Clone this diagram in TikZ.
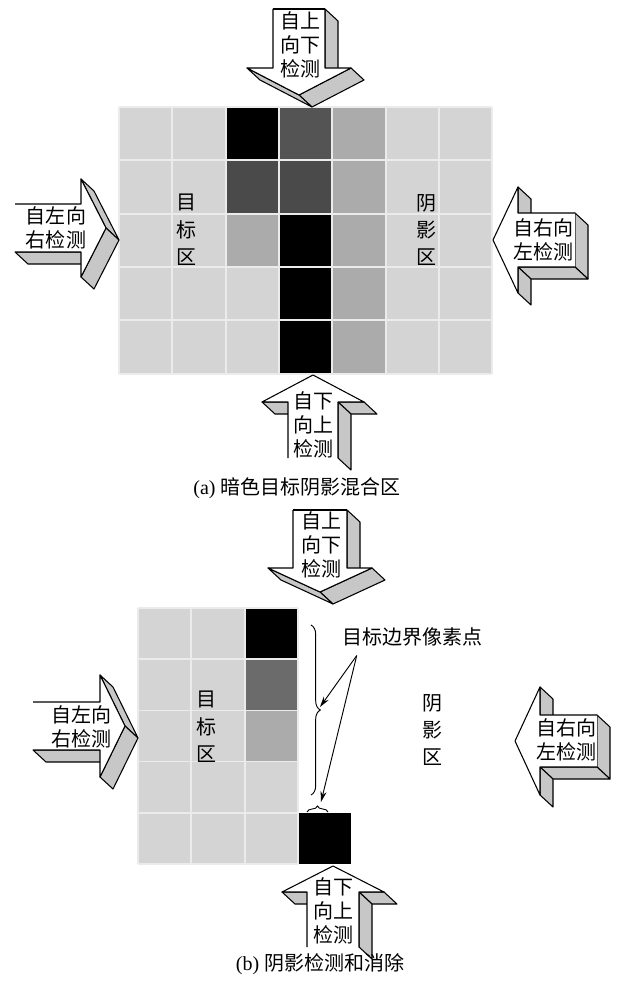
\documentclass[tikz,border=0pt]{standalone}
\usepackage{fontspec}
\setmainfont{Liberation Serif}
\newfontfamily\cjk{Noto Sans CJK SC}
\usetikzlibrary{calc,arrows.meta,decorations.pathreplacing}

\definecolor{lite}{gray}{0.83}
\definecolor{mid}{gray}{0.67}
\definecolor{dark}{gray}{0.33}
\definecolor{darker}{gray}{0.29}
\definecolor{bdark}{gray}{0.42}

\tikzset{
  side/.style={fill=black!22, draw=black, line width=.8pt, line join=round},
  face/.style={draw=black, line width=.8pt, line join=round},
  cellline/.style={draw=white!92!black, line width=1.3pt},
  lbl/.style={font=\cjk\fontsize{15}{18}\selectfont, align=center, inner sep=0pt},
  zone/.style={font=\cjk\fontsize{15}{20.5}\selectfont, align=center, inner sep=0pt},
  legend/.style={font=\fontsize{15}{18}\selectfont, inner sep=0pt},
  ptr/.style={-{Stealth[length=8pt,width=4.5pt]}, line width=.7pt},
  brc/.style={decorate, decoration={brace, amplitude=#1}, line width=.7pt},
}

% solid arrow: name, tip, angle, length, head, shaft half, head half, seen faces
\newcommand\solidarrow[8]{%
  \begin{scope}[shift={#2}, rotate=#3]
    \coordinate (#1-1) at (-#4,-#6);
    \coordinate (#1-2) at (-#5,-#6);
    \coordinate (#1-3) at (-#5,-#7);
    \coordinate (#1-4) at (0,0);
    \coordinate (#1-5) at (-#5,#7);
    \coordinate (#1-6) at (-#5,#6);
    \coordinate (#1-7) at (-#4,#6);
  \end{scope}
  \foreach \fa/\fb in {#8}{%
    \draw[side] (#1-\fa) -- (#1-\fb) -- ($(#1-\fb)+(13,12)$) -- ($(#1-\fa)+(13,12)$) -- cycle;
  }
  \fill[white] (#1-1) -- (#1-2) -- (#1-3) -- (#1-4) -- (#1-5) -- (#1-6) -- (#1-7) -- cycle;
  \draw[face] (#1-1) -- (#1-2) -- (#1-3) -- (#1-4) -- (#1-5) -- (#1-6) -- (#1-7);
}

\begin{document}
\begin{tikzpicture}[x=.75pt, y=-.75pt]
  \useasboundingbox (0,0) rectangle (626,981);

  % (a) mixed zone
  \begin{scope}[shift={(119,107)}, x=40pt, y=-40pt]
    \fill[lite] (0,0) rectangle (7,5);
    \foreach \x/\y/\c in {2/0/black, 3/0/dark, 4/0/mid, 2/1/darker, 3/1/darker, 4/1/mid,
                          2/2/mid, 3/2/black, 4/2/mid, 3/3/black, 4/3/mid, 3/4/black, 4/4/mid}{%
      \fill[\c] (\x,\y) rectangle (\x+1,\y+1);
    }
    \foreach \i in {0,...,7}{\draw[cellline] (\i,0) -- (\i,5);}
    \foreach \j in {0,...,5}{\draw[cellline] (0,\j) -- (7,\j);}
  \end{scope}
  \node[zone] (az1) at (186,230) {目\\标\\区};
  \node[zone] (az2) at (426,230) {阴\\影\\区};

  \solidarrow{ta}{(299,95)}{-90}{86}{27}{26}{52}{1/2,3/4,4/5}
  \draw[face] (ta-7) -- (ta-1);
  \node[lbl] (ta-t) at (300,45) {自上\\向下\\检测};
  \solidarrow{la}{(106,228)}{0}{91}{25}{24}{49}{6/7,3/4,4/5}
  \node[lbl] (la-t) at (56,228) {自左向\\右检测};
  \solidarrow{ra}{(493,240)}{180}{82}{25}{27}{53}{7/1,1/2,2/3,5/6}
  \node[lbl] (ra-t) at (543,240) {自右向\\左检测};
  \solidarrow{ba}{(313,375)}{90}{83}{27}{25}{51}{2/3,5/6,6/7}
  \node[lbl] (ba-t) at (313,425) {自下\\向上\\检测};

  \node[legend] (acap) at (297,488) {(a) {\cjk 暗色目标阴影混合区}};

  % (b) after removal
  \begin{scope}[shift={(138,608)}, x=40pt, y=-38.4pt]
    \fill[lite] (0,0) rectangle (3,5);
    \foreach \x/\y/\c in {2/0/black, 2/1/bdark, 2/2/mid, 3/4/black}{%
      \fill[\c] (\x,\y) rectangle (\x+1,\y+1);
    }
    \foreach \i in {0,...,3}{\draw[cellline] (\i,0) -- (\i,5);}
    \foreach \j in {0,...,5}{\draw[cellline] (0,\j) -- (3,\j);}
  \end{scope}
  \node[zone] (bz1) at (206,727) {目\\标\\区};
  \node[zone] (bz2) at (432,730) {阴\\影\\区};

  \coordinate (bigtop) at (311,625);
  \coordinate (bigbot) at (311,795);
  \draw[brc=7pt] (bigtop) -- (bigbot);
  \coordinate (smallleft) at (307,812);
  \coordinate (smallright) at (328,812);
  \draw[brc=4.5pt] (smallleft) -- (smallright);
  \node[lbl] (note) at (412,637) {目标边界像素点};
  \coordinate (src) at ($(note.south west)+(15,9)$);
  \coordinate (bigtip) at (320,707);
  \coordinate (smalltip) at (321,802);
  \draw[ptr] (src) -- (bigtip);
  \draw[ptr] (src) -- (smalltip);

  \solidarrow{tb}{(320,592)}{-90}{82}{24}{27}{52}{1/2,3/4,4/5}
  \draw[face] (tb-7) -- (tb-1);
  \node[lbl] (tb-t) at (321,545) {自上\\向下\\检测};
  \solidarrow{lb}{(125,726)}{0}{92}{25}{24}{51}{6/7,3/4,4/5}
  \node[lbl] (lb-t) at (81,727) {自左向\\右检测};
  \solidarrow{rb}{(515,741)}{180}{82}{25}{26}{54}{7/1,1/2,2/3,5/6}
  \node[lbl] (rb-t) at (566,740) {自右向\\左检测};
  \solidarrow{bb}{(333,866)}{90}{81}{26}{26}{51}{2/3,5/6,6/7}
  \node[lbl] (bb-t) at (333,911) {自下\\向上\\检测};

  \node[legend] (bcap) at (320,964) {(b) {\cjk 阴影检测和消除}};
\end{tikzpicture}
\end{document}
